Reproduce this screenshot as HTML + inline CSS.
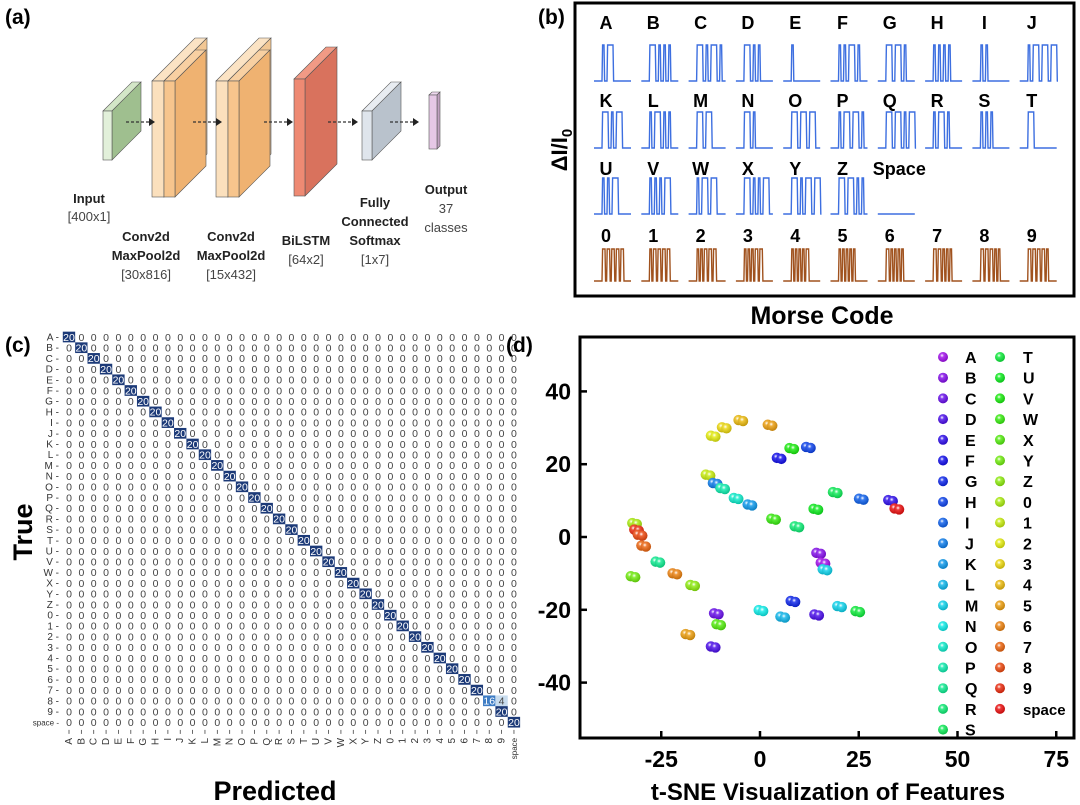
<!DOCTYPE html>
<html><head><meta charset="utf-8">
<style>
html,body{margin:0;padding:0;background:#fff;}
svg{display:block;font-family:"Liberation Sans",Arial,sans-serif;}
</style></head>
<body>
<svg id="fig" width="1080" height="805" viewBox="0 0 1080 805" xmlns="http://www.w3.org/2000/svg">
<defs id="defs"></defs>
<!-- Panel a -->
<g id="panelA">
<text x="5" y="24" font-size="21" font-weight="bold">(a)</text>
</g>
<!-- Panel b -->
<g id="panelB">
<text x="538" y="24" font-size="21" font-weight="bold">(b)</text>
<rect x="575" y="3" width="499" height="293" fill="none" stroke="#000" stroke-width="3"/>
<text transform="translate(567,150) rotate(-90)" text-anchor="middle" font-size="22" font-weight="bold">ΔI/I<tspan font-size="15" dy="5">0</tspan></text>
<text x="822" y="324" text-anchor="middle" font-size="25" font-weight="bold">Morse Code</text>
</g>
<!-- Panel c -->
<g id="panelC">
<text x="5" y="352" font-size="21" font-weight="bold">(c)</text>
<text transform="translate(32,532) rotate(-90)" text-anchor="middle" font-size="27" font-weight="bold">True</text>
<text x="275" y="800" text-anchor="middle" font-size="27" font-weight="bold">Predicted</text>
</g>
<!-- Panel d -->
<g id="panelD">
<text x="506" y="352" font-size="21" font-weight="bold">(d)</text>
<rect x="580" y="337" width="494" height="401" fill="none" stroke="#000" stroke-width="3"/>
<text x="828" y="800" text-anchor="middle" font-size="24" font-weight="bold">t-SNE Visualization of Features</text>
</g>
</svg>
<script>
// ---------- Panel (b) data ----------
const morseLabels = ["A","B","C","D","E","F","G","H","I","J","K","L","M","N","O","P","Q","R","S","T","U","V","W","X","Y","Z","Space","0","1","2","3","4","5","6","7","8","9"];
const morseCodes = [".-","-...","-.-.","-..",".","..-.","--.","....","..",".---","-.-",".-..","--","-.","---",".--.","--.-",".-.","...","-","..-","...-",".--","-..-","-.--","--..","",
"-----",".----","..---","...--","....-",".....","-....","--...","---..","----."];
// ---------- Panel (c) data ----------
const classLabels = ["A","B","C","D","E","F","G","H","I","J","K","L","M","N","O","P","Q","R","S","T","U","V","W","X","Y","Z","0","1","2","3","4","5","6","7","8","9","space"];
const diagCounts = [20,20,20,20,20,20,20,20,20,20,20,20,20,20,20,20,20,20,20,20,20,20,20,20,20,20,20,20,20,20,20,20,20,20,16,20,20];
const offDiagTrue = [34];
const offDiagPred = [35];
const offDiagCount = [4];
// ---------- Panel (d) data ----------
const tsneX = [-11.8,-9,-4.8,2.6, 4.9,8.1,12.3, -13.1,-11.3,-9.4,-6,-2.5, 3.5,9.4,14.2,19.1,25.7,33.1,34.7, -31.7,-31.2,-30.3,-29.4, -25.8,-32.1,-21.5,-17, 14.9,16,16.5, -11,-10.4,-18.2,-11.8, 0.3,5.8,8.4,14.4,20.2,24.8];
const tsneY = [27.7,30,32,30.7, 21.6,24.3,24.6, 17,14.7,13.3,10.6,8.8, 4.9,2.8,7.6,12.2,10.4,10,7.7, 3.7,1.9,0.5,-2.5, -6.9,-10.9,-10.1,-13.3, -4.5,-7.2,-9, -21.1,-24.1,-26.8,-30.2, -20.2,-22,-17.7,-21.4,-19.1,-20.5];
const tsneClass = [28,29,30,31, 5,21,7, 27,9,15,14,10, 22,17,20,18,8,4,36, 26,35,34,33, 16,24,32,25, 1,0,12, 2,23,31,3, 13,11,6,3,12,19];
const xTicks = [-25,0,25,50,75];
const yTicks = [40,20,0,-20,-40];

const NS = "http://www.w3.org/2000/svg";
function mk(tag, attrs, parent){ const e=document.createElementNS(NS,tag); for(const k in attrs) e.setAttribute(k,attrs[k]); if(parent) parent.appendChild(e); return e; }

// ---------- Panel (a) ----------
(function(){
  const g=document.getElementById('panelA');
  function box(x,y,w,h,d,front,side,top,name){
    const grp=mk('g',{},g);
    
    
    mk('polygon',{points:`${x},${y} ${x+d},${y-d} ${x+w+d},${y-d} ${x+w},${y}`,fill:top,stroke:'#555','stroke-width':0.6},grp);
    mk('polygon',{points:`${x+w},${y} ${x+w+d},${y-d} ${x+w+d},${y+h-d} ${x+w},${y+h}`,fill:side,stroke:'#555','stroke-width':0.6},grp);
    mk('rect',{x:x,y:y,width:w,height:h,fill:front,stroke:'#555','stroke-width':0.6},grp);
  }
  box(103,111,9,49,29,'#e2f0da','#9fbf8f','#d3e6c7','input-layer');
  box(152,81,12,116,43,'#fbe0bd','#f2c794','#fbe3c4','conv1-slab-back');
  box(164,81,11,116,31,'#f7c58d','#efb271','#f8d0a2','conv1-slab-front');
  box(216,81,12,116,43,'#fbe0bd','#f2c794','#fbe3c4','conv2-slab-back');
  box(228,81,11,116,31,'#f7c58d','#efb271','#f8d0a2','conv2-slab-front');
  box(294,79,11,117,32,'#ee8a73','#d9725d','#f19a85','bilstm-layer');
  box(362,111,10,49,29,'#dfe5ec','#b9c2cc','#e8ecf1','fully-connected-layer');
  box(429,95,8,54,3,'#e6c8e6','#bfa0bf','#efd8ef','output-layer');
  const arrows=[[126,155],[193,222],[264,293],[328,358],[390,419]];
  arrows.forEach((a,i)=>{
    const l=mk('line',{x1:a[0],y1:122,x2:a[1]-5,y2:122,stroke:'#333','stroke-width':1.2,'stroke-dasharray':'3,2'},g);
    
    
    mk('polygon',{points:`${a[1]},122 ${a[1]-6},118 ${a[1]-6},126`,fill:'#222'},g);
  });
  const labels=[["Input",89,203,1],["[400x1]",89,221,0],["Conv2d",146,241,1],["MaxPool2d",146,260,1],["[30x816]",146,279,0],
    ["Conv2d",231,241,1],["MaxPool2d",231,260,1],["[15x432]",231,279,0],["BiLSTM",306,245,1],["[64x2]",306,264,0],
    ["Fully",375,207,1],["Connected",375,226,1],["Softmax",375,245,1],["[1x7]",375,264,0],["Output",446,194,1],["37",446,213,0],["classes",446,232,0]];
  labels.forEach(l=>{
    const t=mk('text',{x:l[1],y:l[2],'text-anchor':'middle','font-size':13,'font-weight':l[3]?'bold':'normal',fill:l[3]?'#222':'#444'},g);
    t.textContent=l[0];
    
    
  });
})();

// ---------- Panel (b) ----------
(function(){
  const g=document.getElementById('panelB');
  const colX0=594, colStep=47.3, rowLetterY=[29,107,175,242], rowBase=[81,148,214,281];
  morseLabels.forEach((lab,i)=>{
    let row,col;
    if(i<10){row=0;col=i;} else if(i<20){row=1;col=i-10;} else if(i<27){row=2;col=i-20;} else {row=3;col=i-27;}
    const x0=colX0+col*colStep;
    const t=mk('text',{x:x0+12,y:rowLetterY[row],'text-anchor':lab==='Space'?'start':'middle','font-size':18,'font-weight':'bold'},g);
    if(lab==='Space') t.setAttribute('x',x0-5);
    t.textContent=lab;
    
    
    const code=morseCodes[i], base=rowBase[row], h=row===3?32:36;
    let d=`M${x0},${base}`; let cx=x0+8;
    for(const s of code){
      const w=s==='-'?(row===3?3:6):2;
      d+=` L${cx},${base} L${cx+0.6},${base-h} L${cx+w},${base-h} L${cx+w+0.6},${base}`;
      cx+=w+(row===3?1.6:3);
    }
    d+=` L${x0+37},${base}`;
    const p=mk('path',{d:d,fill:'none',stroke:row===3?'#a0521e':'#3d6fe0','stroke-width':1.4},g);
    
    
  });
})();

// ---------- Panel (c) ----------
(function(){
  const g=document.getElementById('panelC');
  const x0=69, dx=12.36, y0=337, dy=10.7, n=classLabels.length;
  const col=v=>v>=18?'#1c3a78':v>=12?'#3d7cc4':v>0?'#c8dcee':null;
  const M=[];
  for(let r=0;r<n;r++){M.push(new Array(n).fill(0)); M[r][r]=diagCounts[r];}
  offDiagTrue.forEach((r,k)=>{M[r][offDiagPred[k]]=offDiagCount[k];});
  for(let r=0;r<n;r++){
    const yl=mk('text',{x:x0-10,y:y0+r*dy+3.5,'text-anchor':'end','font-size':r===n-1?8:10,fill:'#333'},g);
    yl.textContent=classLabels[r]+' -';
    
    
    for(let c=0;c<n;c++){
      const v=M[r][c], cx=x0+c*dx, cy=y0+r*dy, fc=col(v);
      if(fc){
        const rc=mk('rect',{x:cx-6.2,y:cy-5.35,width:dx,height:dy,fill:fc},g);
        
        
      }
      const t=mk('text',{x:cx,y:cy+3.8,'text-anchor':'middle','font-size':10.5,fill:v>=12?'#fff':'#444'},g);
      t.textContent=v;
      
      
    }
  }
  for(let c=0;c<n;c++){
    const cx=x0+c*dx;
    mk('line',{x1:cx,y1:y0+n*dy-3,x2:cx,y2:y0+n*dy+1,stroke:'#444','stroke-width':0.8},g);
    const t=mk('text',{transform:`translate(${cx+3},${y0+n*dy+5}) rotate(-90)`,'text-anchor':'end','font-size':c===n-1?8:10,fill:'#333'},g);
    t.textContent=classLabels[c];
    
    
  }
})();

// ---------- Panel (d) ----------
(function(){
  const g=document.getElementById('panelD'), defs=document.getElementById('defs');
  const X=v=>760+v*3.95, Y=v=>537-v*3.64;
  const hue=i=>280-i*(280/36);
  for(let i=0;i<37;i++){
    const rg=mk('radialGradient',{id:'sph'+i,cx:'40%',cy:'35%',r:'65%'},defs);
    mk('stop',{offset:'0%','stop-color':'#ffffff'},rg);
    mk('stop',{offset:'30%','stop-color':`hsl(${hue(i)},85%,58%)`},rg);
    mk('stop',{offset:'100%','stop-color':`hsl(${hue(i)},90%,40%)`},rg);
  }
  yTicks.forEach(v=>{
    mk('line',{x1:580,y1:Y(v),x2:587,y2:Y(v),stroke:'#000','stroke-width':2.5},g);
    const t=mk('text',{x:571,y:Y(v)+8,'text-anchor':'end','font-size':23,'font-weight':'bold'},g);
    t.textContent=v;
    
    
  });
  xTicks.forEach(v=>{
    mk('line',{x1:X(v),y1:731,x2:X(v),y2:738,stroke:'#000','stroke-width':2.5},g);
    const t=mk('text',{x:X(v),y:767,'text-anchor':'middle','font-size':23,'font-weight':'bold'},g);
    t.textContent=v;
    
    
  });
  tsneX.forEach((xv,k)=>{
    const c=tsneClass[k], px=X(xv), py=Y(tsneY[k]);
    const pg=mk('g',{},g);
    
    
    mk('circle',{cx:px-2.5,cy:py-0.5,r:5.2,fill:`url(#sph${c})`},pg);
    mk('circle',{cx:px+2,cy:py+0.5,r:5.2,fill:`url(#sph${c})`},pg);
  });
  classLabels.forEach((lab,i)=>{
    const colI=i<19?0:1, r=i<19?i:i-19;
    const mx=colI?1000:943, ty=357+r*20.7;
    const lg=mk('g',{},g);
    
    
    mk('circle',{cx:mx,cy:ty,r:5,fill:`url(#sph${i})`},lg);
    const t=mk('text',{x:mx+(colI?23:22),y:ty+6,'font-size':lab==='space'?15:16,'font-weight':'bold'},lg);
    t.textContent=lab;
  });
})();
</script>
</body></html>
